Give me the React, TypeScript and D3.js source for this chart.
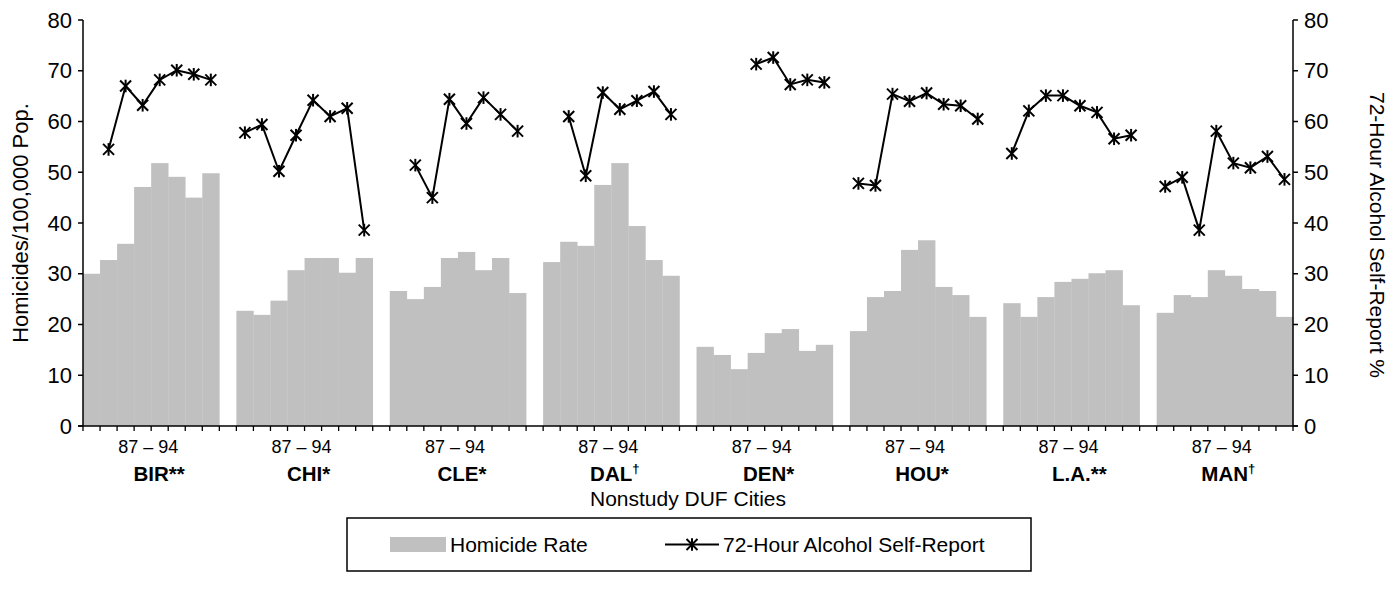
import React from 'react';
import * as d3 from 'd3';

const cityNames = ['BIR', 'CHI', 'CLE', 'DAL', 'DEN', 'HOU', 'L.A.', 'MAN'];
const cityMarks = ['**', '*', '*', '†', '*', '*', '**', '†'];
const yearRangeLabel = '87 – 94';
const yTicks = [0, 10, 20, 30, 40, 50, 60, 70, 80];

// Homicide rate per 100,000 (years 87..94)
const homBIR = [30.0, 32.7, 35.9, 47.1, 51.8, 49.1, 45.0, 49.8];
const homCHI = [22.7, 21.9, 24.7, 30.7, 33.1, 33.1, 30.2, 33.1];
const homCLE = [26.6, 25.0, 27.4, 33.1, 34.3, 30.7, 33.1, 26.2];
const homDAL = [32.3, 36.3, 35.5, 47.5, 51.8, 39.4, 32.7, 29.6];
const homDEN = [15.6, 14.0, 11.2, 14.4, 18.3, 19.1, 14.8, 16.0];
const homHOU = [18.7, 25.4, 26.6, 34.7, 36.6, 27.4, 25.8, 21.5];
const homLA = [24.2, 21.5, 25.4, 28.4, 29.0, 30.1, 30.7, 23.8];
const homMAN = [22.3, 25.8, 25.4, 30.7, 29.6, 27.0, 26.6, 21.5];

// 72-hour alcohol self-report % (years 87..94, null = not available)
const alcBIR = [null, 54.5, 67.0, 63.2, 68.2, 70.1, 69.3, 68.2];
const alcCHI = [57.8, 59.4, 50.2, 57.3, 64.2, 61.0, 62.6, 38.6];
const alcCLE = [null, 51.4, 45.0, 64.4, 59.6, 64.7, 61.4, 58.1];
const alcDAL = [null, 61.0, 49.3, 65.7, 62.4, 64.1, 65.9, 61.4];
const alcDEN = [null, null, null, 71.3, 72.6, 67.3, 68.2, 67.7];
const alcHOU = [47.8, 47.4, 65.4, 64.0, 65.6, 63.4, 63.1, 60.5];
const alcLA = [53.7, 62.1, 65.1, 65.1, 63.1, 61.8, 56.6, 57.3];
const alcMAN = [47.2, 49.0, 38.6, 58.1, 51.8, 50.9, 53.1, 48.6];

const homicide = [homBIR, homCHI, homCLE, homDAL, homDEN, homHOU, homLA, homMAN];
const alcohol = [alcBIR, alcCHI, alcCLE, alcDAL, alcDEN, alcHOU, alcLA, alcMAN];

const FONT = '"Liberation Sans", Arial, sans-serif';

function Star({ x, y }: { x: number; y: number }) {
  const r = 6.3;
  const d = 5.5;
  return (
    <g stroke="#000" strokeWidth={2}>
      <line x1={x - d} y1={y - d} x2={x + d} y2={y + d} />
      <line x1={x - d} y1={y + d} x2={x + d} y2={y - d} />
      <line x1={x} y1={y - r} x2={x} y2={y + r} />
    </g>
  );
}

export default function App() {
  const W = 1392;
  const H = 592;
  const left = 83;
  const right = 1293;
  const top = 20;
  const bottom = 426;
  const perGroup = 8;
  const nSlots = cityNames.length * (perGroup + 1) - 1;

  const x = d3.scaleBand<number>().domain(d3.range(nSlots)).range([left, right]).padding(0);
  const y = d3.scaleLinear().domain([0, 80]).range([bottom, top]);
  const y2 = d3.scaleLinear().domain([0, 80]).range([bottom, top]);
  const bw = x.bandwidth();

  const slot = (g: number, i: number) => g * (perGroup + 1) + i;

  const line = d3
    .line<{ s: number; v: number | null }>()
    .defined((d) => d.v != null)
    .x((d) => (x(d.s) as number) + bw / 2)
    .y((d) => y2(d.v as number));

  const tickSlots = d3.range(nSlots + 1);

  const cityFont = 20.5;
  const markShift = (m: string) => (m === '†' ? 3.5 : (m.length * 0.389 * cityFont) / 2);

  const lgX = 347;
  const lgW = 684;
  const lgY = 518;
  const lgH = 53;
  const lgMid = lgY + lgH / 2;

  return (
    <svg
      width={W}
      height={H}
      style={{ position: 'absolute', left: 0, top: 0, background: '#fff' }}
      fontFamily={FONT}
    >
      <rect x={0} y={0} width={W} height={H} fill="#fff" />
      {homicide.map((vals, g) =>
        vals.map((v, i) => (
          <rect
            key={`b${g}-${i}`}
            x={x(slot(g, i)) as number}
            y={y(v)}
            width={bw + 0.3}
            height={bottom - y(v)}
            fill="#c0c0c0"
          />
        ))
      )}
      <line x1={left} y1={top} x2={left} y2={bottom} stroke="#000" strokeWidth={1.5} />
      <line x1={right} y1={top} x2={right} y2={bottom} stroke="#000" strokeWidth={1.5} />
      <line x1={left - 5} y1={bottom} x2={right + 5} y2={bottom} stroke="#000" strokeWidth={1.5} />
      {yTicks.map((t) => (
        <g key={`yt${t}`}>
          <line x1={left - 5} x2={left} y1={y(t)} y2={y(t)} stroke="#000" strokeWidth={1.5} />
          <text x={left - 11} y={y(t)} dy="0.35em" textAnchor="end" fontSize={22}>
            {t}
          </text>
          <line x1={right} x2={right + 5} y1={y2(t)} y2={y2(t)} stroke="#000" strokeWidth={1.5} />
          <text x={right + 11} y={y2(t)} dy="0.35em" textAnchor="start" fontSize={22}>
            {t}
          </text>
        </g>
      ))}
      {tickSlots.map((s) => {
        const xx = s < nSlots ? (x(s) as number) : right;
        return <line key={`xt${s}`} x1={xx} x2={xx} y1={bottom} y2={bottom + 5} stroke="#000" strokeWidth={1.3} />;
      })}
      {alcohol.map((vals, g) => {
        const pts = vals.map((v, i) => ({ s: slot(g, i), v }));
        return (
          <g key={`l${g}`}>
            <path d={line(pts) || ''} fill="none" stroke="#000" strokeWidth={2} />
            {pts
              .filter((p) => p.v != null)
              .map((p, i) => (
                <Star key={i} x={(x(p.s) as number) + bw / 2} y={y2(p.v as number)} />
              ))}
          </g>
        );
      })}
      {cityNames.map((c, g) => {
        const cx = (x(slot(g, 0)) as number) + (bw * perGroup) / 2;
        const m = cityMarks[g];
        return (
          <g key={`c${g}`}>
            <text x={cx - 3} y={447} dy="0.35em" textAnchor="middle" fontSize={18}>
              {yearRangeLabel}
            </text>
            <text
              x={cx + markShift(m)}
              y={474}
              dy="0.35em"
              textAnchor="middle"
              fontSize={cityFont}
              fontWeight="bold"
            >
              {c}
              {m === '†' ? (
                <tspan fontSize={13} dy="-0.6em">
                  {m}
                </tspan>
              ) : (
                m
              )}
            </text>
          </g>
        );
      })}
      <text x={(left + right) / 2} y={499} dy="0.35em" textAnchor="middle" fontSize={21}>
        Nonstudy DUF Cities
      </text>
      <text transform={`translate(20,${(top + bottom) / 2}) rotate(-90)`} textAnchor="middle" dy="0.35em" fontSize={22}>
        Homicides/100,000 Pop.
      </text>
      <text transform={`translate(1377,${(top + bottom) / 2 + 12}) rotate(90)`} textAnchor="middle" dy="0.35em" fontSize={21}>
        72-Hour Alcohol Self-Report %
      </text>
      <rect x={lgX} y={lgY} width={lgW} height={lgH} fill="#fff" stroke="#000" strokeWidth={1.5} />
      <rect x={lgX + 43} y={lgMid - 7.5} width={56} height={15} fill="#c0c0c0" />
      <text x={lgX + 103} y={lgMid} dy="0.35em" fontSize={21}>
        Homicide Rate
      </text>
      <line x1={lgX + 318} x2={lgX + 372} y1={lgMid} y2={lgMid} stroke="#000" strokeWidth={2} />
      <Star x={lgX + 345} y={lgMid} />
      <text x={lgX + 376} y={lgMid} dy="0.35em" fontSize={21}>
        72-Hour Alcohol Self-Report
      </text>
    </svg>
  );
}
